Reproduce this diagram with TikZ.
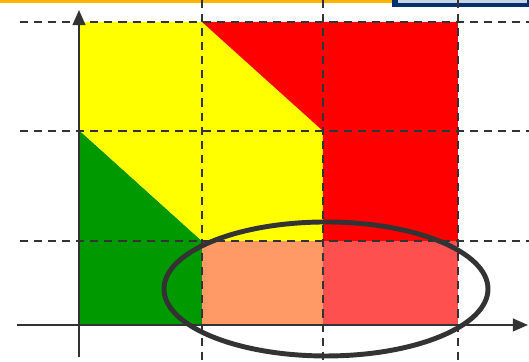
\documentclass[tikz,border=0pt]{standalone}
\usepackage{tikz}
\usetikzlibrary{arrows.meta}

\definecolor{zonegreen}{HTML}{009900}
\definecolor{zoneyellow}{HTML}{FFFF00}
\definecolor{zonered}{HTML}{FF0000}
\definecolor{zonesalmon}{HTML}{FF9966}
\definecolor{zonelightred}{HTML}{FF5050}
\definecolor{linegray}{HTML}{333333}
\definecolor{barorange}{HTML}{FFB300}
\definecolor{barblue}{HTML}{003070}
\definecolor{barpale}{HTML}{C8D4E4}

\begin{document}
\begin{tikzpicture}[x=0.01cm, y=-0.01cm,
    axis/.style={-{Triangle[length=4.3pt, width=3.6pt]}, line width=0.6pt, linegray},
    gridline/.style={line width=0.6pt, linegray, dash pattern=on 2.3pt off 1.7pt},
    zone/.style={draw=none},
    ring/.style={line width=1.4pt, linegray}
  ]
  \useasboundingbox (0,0) rectangle (529,362);

  % Balken oben
  \fill[barorange] (0,0) rectangle (392,3);
  \fill[barblue] (392,0) rectangle (529,7);
  \fill[barpale] (398,0) rectangle (527,3);

  % Eckpunkte des Rasters
  \coordinate (o) at (80,325);
  \coordinate (a) at (80,131);
  \coordinate (b) at (80,22);
  \coordinate (c) at (202,22);
  \coordinate (d) at (458,22);
  \coordinate (e) at (323,131);
  \coordinate (f) at (323,241);
  \coordinate (g) at (202,241);
  \coordinate (h) at (458,241);
  \coordinate (i) at (202,325);
  \coordinate (j) at (323,325);
  \coordinate (k) at (458,325);

  % Zonen
  \fill[zone, zonegreen] (a) -- (g) -- (i) -- (o) -- cycle;
  \fill[zone, zoneyellow] (b) -- (c) -- (e) -- (f) -- (g) -- (a) -- cycle;
  \fill[zone, zonered] (c) -- (d) -- (h) -- (f) -- (e) -- cycle;
  \fill[zone, zonesalmon] (g) rectangle (j);
  \fill[zone, zonelightred] (f) rectangle (k);

  % Gestrichelte Linien
  \draw[gridline] (20,22) -- (529,22);
  \draw[gridline] (20,131) -- (529,131);
  \draw[gridline] (20,241) -- (529,241);
  \foreach \xx in {202,323,458}
    \draw[gridline] (\xx,0) -- (\xx,362);

  % Achsen
  \draw[axis] (79,357) -- (79,10);
  \draw[axis] (17,325) -- (528,325);

  % Ellipse um die untere Zeile
  \draw[ring] (326,289) ellipse [x radius=162, y radius=67];

\end{tikzpicture}
\end{document}
